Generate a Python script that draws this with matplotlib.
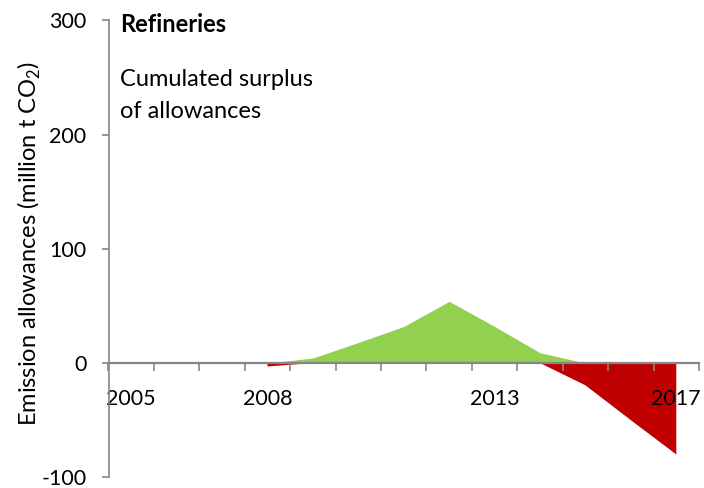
import matplotlib
matplotlib.use("Agg")
import matplotlib.pyplot as plt
import numpy as np

# data (million t CO2)
years = list(range(2005, 2018))
surplus = [np.nan, np.nan, np.nan, 0, 4.4, 18, 32, 54, 32, 9, 0, np.nan, np.nan]
deficit = [np.nan, np.nan, np.nan, -3, 0, np.nan, np.nan, np.nan, np.nan, 0, -19.5, -50, -80]
shown_years = [2005, 2008, 2013, 2017]
yticks = [-100, 0, 100, 200, 300]

plt.rcParams['font.family'] = ['Lato', 'DejaVu Sans']
plt.rcParams['mathtext.fontset'] = 'custom'
plt.rcParams['mathtext.rm'] = 'Lato'

green = "#92D050"
red = "#C00000"
axis_grey = "#868686"

fig = plt.figure(figsize=(7.04, 4.88), dpi=100)
ax = fig.add_axes([108.5/704, 10.7/488, 590.5/704, 457/488])

x = np.arange(len(years))
ax.fill_between(x, 0, np.array(surplus, dtype=float), color=green, lw=0)
ax.fill_between(x, 0, np.array(deficit, dtype=float), color=red, lw=0)

ax.set_xlim(-0.5, len(years) - 0.5)
ax.set_ylim(-100, 300)

# spines
for s in ['top', 'right']:
    ax.spines[s].set_visible(False)
ax.spines['bottom'].set_position(('data', 0))
ax.spines['left'].set_color(axis_grey)
ax.spines['bottom'].set_color(axis_grey)
ax.spines['left'].set_linewidth(1.2)
ax.spines['bottom'].set_linewidth(1.6)

# x ticks: marks between categories, labels for some years only
ax.set_xticks(np.arange(len(years) + 1) - 0.5)
ax.set_xticklabels([])
ax.tick_params(axis='x', which='major', direction='out', length=6,
               width=1.2, color=axis_grey)
ax.set_xticks([years.index(yr) for yr in shown_years], minor=True)
ax.set_xticklabels([str(yr) for yr in shown_years], minor=True)
ax.tick_params(axis='x', which='minor', length=0, pad=19, labelsize=15.5)

ax.set_yticks(yticks)
ax.set_yticklabels([str(v) for v in yticks])
ax.tick_params(axis='y', direction='out', length=5, width=1.2,
               color=axis_grey, pad=11, labelsize=15.5)

fig.text(29/704, 1 - 243/488, r"Emission allowances (million t CO$_2$)",
         rotation=90, ha='center', va='center', fontsize=17)

fig.text(120/704, 1 - 32.5/488, "Refineries", fontsize=17,
         fontweight='bold', va='baseline')
fig.text(120/704, 1 - 86/488, "Cumulated surplus", fontsize=17, va='baseline')
fig.text(120/704, 1 - 118/488, "of allowances", fontsize=17, va='baseline')

plt.savefig("out.png", dpi=100)
